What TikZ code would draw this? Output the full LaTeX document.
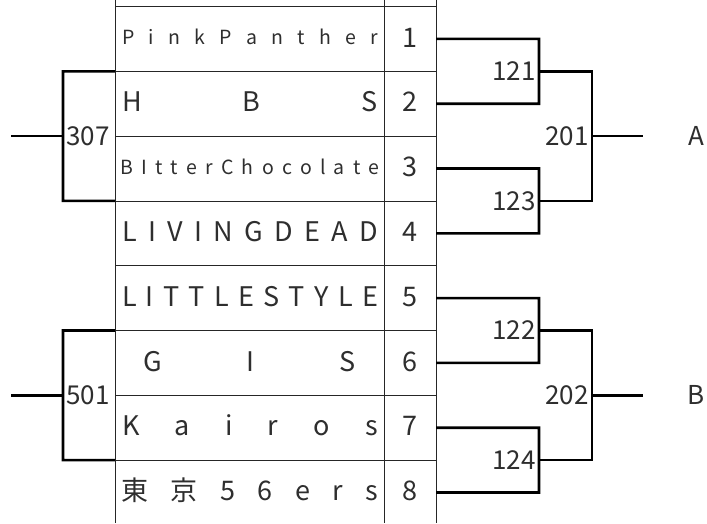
\documentclass[tikz,border=0pt]{standalone}
\usepackage{fontspec}
\setmainfont{Noto Sans CJK JP}
\newcommand{\spreadtext}[2]{\hbox to #1{#2}}
\begin{document}
\begin{tikzpicture}[x=1pt,y=-1pt,
  gridline/.style={line width=0.8pt, draw=black!85},
  bracket/.style={line width=2.6pt, draw=black},
  bigtxt/.style={font=\fontsize{27}{27}\selectfont, text=black!82, inner sep=0pt, anchor=base},
  smalltxt/.style={font=\fontsize{19.5}{19.5}\selectfont, text=black!82, inner sep=0pt, anchor=base},
  lbl/.style={font=\fontsize{26}{26}\selectfont, text=black!82, inner sep=0pt}
]
\useasboundingbox (0,0) rectangle (707,523);
% table grid
\draw[gridline] (115,0) -- (115,523);
\draw[gridline] (384,0) -- (384,523);
\draw[gridline] (436,0) -- (436,523);
\foreach \k in {0,...,7} {
  \draw[gridline] (115,6.5+64.8*\k) -- (436,6.5+64.8*\k);
}
% boundary and row coordinates
\foreach \k in {1,...,7} {
  \coordinate (L\k) at (115,6.5+64.8*\k);
  \coordinate (B\k) at (436,6.5+64.8*\k);
}
\foreach \i in {1,...,8} {
  \coordinate (R\i) at (436,6.5+64.8*\i-32.4);
}
% names
\node[smalltxt] (n1) at (250,38.9+6) {\spreadtext{256pt}{P\hfill i\hfill n\hfill k\hfill P\hfill a\hfill n\hfill t\hfill h\hfill e\hfill r}};
\node[bigtxt] (n2) at (250,103.7+8.2) {\spreadtext{256pt}{H\hfill B\hfill S}};
\node[smalltxt] (n3) at (250,168.5+6) {\spreadtext{259pt}{B\hfill I\hfill t\hfill t\hfill e\hfill r\hfill C\hfill h\hfill o\hfill c\hfill o\hfill l\hfill a\hfill t\hfill e}};
\node[bigtxt] (n4) at (250,233.3+8.2) {\spreadtext{256pt}{L\hfill I\hfill V\hfill I\hfill N\hfill G\hfill D\hfill E\hfill A\hfill D}};
\node[bigtxt] (n5) at (250,298.1+8.2) {\spreadtext{256pt}{L\hfill I\hfill T\hfill T\hfill L\hfill E\hfill S\hfill T\hfill Y\hfill L\hfill E}};
\node[bigtxt] (n6) at (249.5,362.9+8.2) {\spreadtext{213pt}{G\hfill I\hfill S}};
\node[bigtxt] (n7) at (250,427.7+8.2) {\spreadtext{256pt}{K\hfill a\hfill i\hfill r\hfill o\hfill s}};
\node[bigtxt] (n8) at (250,492.5+8.2) {\spreadtext{257pt}{東\hfill 京\hfill 5\hfill 6\hfill e\hfill r\hfill s}};
% seeds
\foreach \i in {1,...,8} {
  \node[bigtxt] (s\i) at (410,6.5+64.8*\i-32.4+8.2) {\i};
}
% left brackets
\coordinate (c307t) at (63,71.3);
\coordinate (c307b) at (63,200.9);
\coordinate (c307m) at (63,136.1);
\coordinate (e307) at (11,136.1);
\draw[bracket] (L1) -- (c307t) -- (c307b) -- (L3);
\draw[bracket] (e307) -- (c307m);
\node[lbl, anchor=west] (t307) at (66,136.1) {307};
\coordinate (c501t) at (63,330.5);
\coordinate (c501b) at (63,460.1);
\coordinate (c501m) at (63,395.3);
\coordinate (e501) at (11,395.3);
\draw[bracket] (L5) -- (c501t) -- (c501b) -- (L7);
\draw[bracket] (e501) -- (c501m);
\node[lbl, anchor=west] (t501) at (66,395.3) {501};
% right first round
\draw[bracket] (R1) -- (539,38.9) coordinate (a1) -- (539,103.7) coordinate (a2) -- (R2);
\draw[bracket] (R3) -- (539,168.5) coordinate (a3) -- (539,233.3) coordinate (a4) -- (R4);
\draw[bracket] (R5) -- (539,298.1) coordinate (a5) -- (539,362.9) coordinate (a6) -- (R6);
\draw[bracket] (R7) -- (539,427.7) coordinate (a7) -- (539,492.5) coordinate (a8) -- (R8);
\node[lbl, anchor=east] (t121) at (536,71.3) {121};
\node[lbl, anchor=east] (t123) at (536,200.9) {123};
\node[lbl, anchor=east] (t122) at (536,330.5) {122};
\node[lbl, anchor=east] (t124) at (536,460.1) {124};
% right second round
\coordinate (m121) at (539,71.3);
\coordinate (m123) at (539,200.9);
\coordinate (m122) at (539,330.5);
\coordinate (m124) at (539,460.1);
\draw[bracket] (m121) -- (592,71.3) -- (592,200.9) -- (m123);
\draw[bracket] (m122) -- (592,330.5) -- (592,460.1) -- (m124);
\coordinate (m201) at (592,136.1);
\coordinate (m202) at (592,395.3);
\coordinate (e201) at (643,136.1);
\coordinate (e202) at (643,395.3);
\draw[bracket] (m201) -- (e201);
\draw[bracket] (m202) -- (e202);
\node[lbl, anchor=east] (t201) at (589,136.1) {201};
\node[lbl, anchor=east] (t202) at (589,395.3) {202};
\node[lbl] (tA) at (696,136.1) {A};
\node[lbl] (tB) at (696,395.3) {B};
\end{tikzpicture}
\end{document}
